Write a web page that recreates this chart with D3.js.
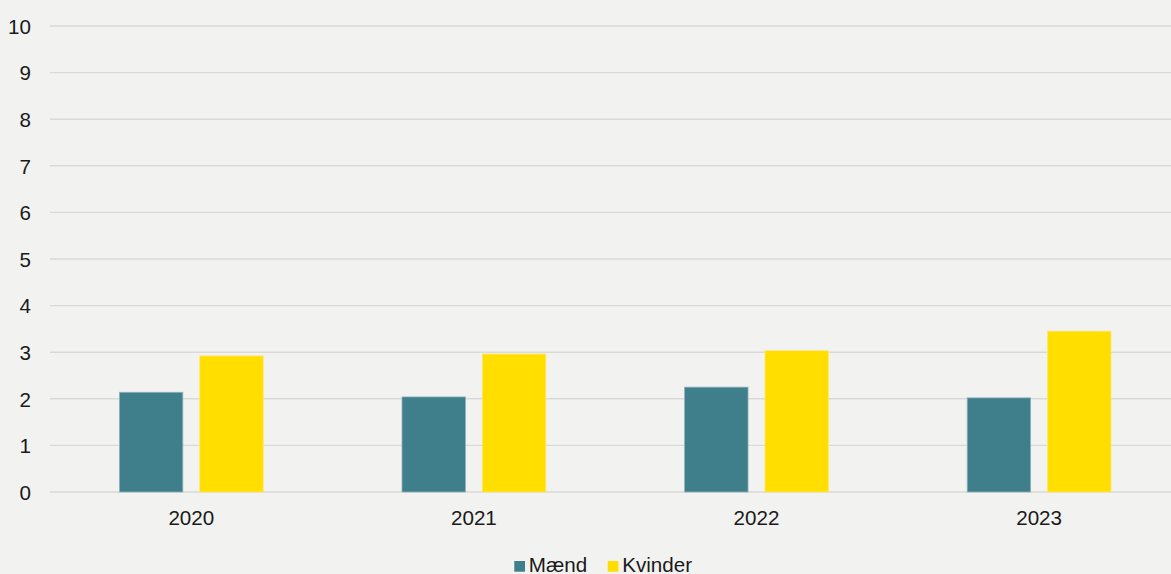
<!DOCTYPE html>
<html><head><meta charset="utf-8">
<script src="https://cdn.jsdelivr.net/npm/d3@7"></script>
<style>
html,body{margin:0;padding:0;background:#f2f2f0;}
svg{display:block;}
text{font-family:"Liberation Sans",Arial,sans-serif;fill:#1a1a1a;}
</style></head><body>
<svg id="c" width="1171" height="574"></svg>
<script>
const categories = ["2020","2021","2022","2023"];
const seriesNames = ["Mænd","Kvinder"];
const maend = [2.14, 2.04, 2.25, 2.02];
const kvinder = [2.92, 2.96, 3.03, 3.45];
const yTicks = [0,1,2,3,4,5,6,7,8,9,10];
const colors = ["#3f7f8b","#ffde00"];
const FS = 20.6;

const svg = d3.select("#c");
const x = d3.scaleBand().domain(categories).range([50, 1180.4]).padding(0);
const y = d3.scaleLinear().domain([0,10]).range([492, 26]);
const bw = x.bandwidth();
const barW = bw*0.2244, gap = bw*0.06;
const x1 = d3.scaleOrdinal().domain(seriesNames).range([-(gap/2+barW), gap/2]);

// gridlines
svg.append("g").selectAll("line").data(yTicks).join("line")
  .attr("x1",50).attr("x2",1171)
  .attr("y1",d=>y(d)).attr("y2",d=>y(d))
  .attr("stroke","#d9d9d9").attr("stroke-width",1.4);

// y axis labels
const yAxis = d3.axisLeft(y).tickValues(yTicks).tickSize(0).tickPadding(0).tickFormat(d3.format("d"));
const ga = svg.append("g").attr("transform","translate(31,0)").call(yAxis);
ga.select(".domain").remove();
ga.selectAll("text").attr("font-size",FS).attr("font-family","Liberation Sans, Arial, sans-serif").attr("fill","#1a1a1a").attr("dy","0.35em");

// bars
const data = [maend, kvinder];
seriesNames.forEach((s,si)=>{
  svg.append("g").selectAll("rect").data(categories).join("rect")
    .attr("x",(c)=>x(c)+bw/2+x1(s))
    .attr("width",barW)
    .attr("y",(c,i)=>y(data[si][i]))
    .attr("height",(c,i)=>y(0)-y(data[si][i]))
    .attr("fill",colors[si])
    .attr("stroke", si===0 ? "#8fb2b8" : "#ffe766")
    .attr("stroke-width",0.8);
});

// x axis labels
const xAxis = d3.axisBottom(x).tickSize(0).tickPadding(0);
const gx = svg.append("g").attr("transform","translate(0,525)").call(xAxis);
gx.select(".domain").remove();
gx.selectAll("text").attr("font-size",FS).attr("font-family","Liberation Sans, Arial, sans-serif").attr("fill","#1a1a1a").attr("dy",0);

// legend
const legendX = [514.3, 607.7];
const lg = svg.append("g");
seriesNames.forEach((s,i)=>{
  lg.append("rect").attr("x",legendX[i]).attr("y",561).attr("width",10.7).attr("height",10.7).attr("fill",colors[i]);
  lg.append("text").attr("x",legendX[i]+14.5).attr("y",571.5).attr("font-size",FS).text(s);
});
</script>
</body></html>
